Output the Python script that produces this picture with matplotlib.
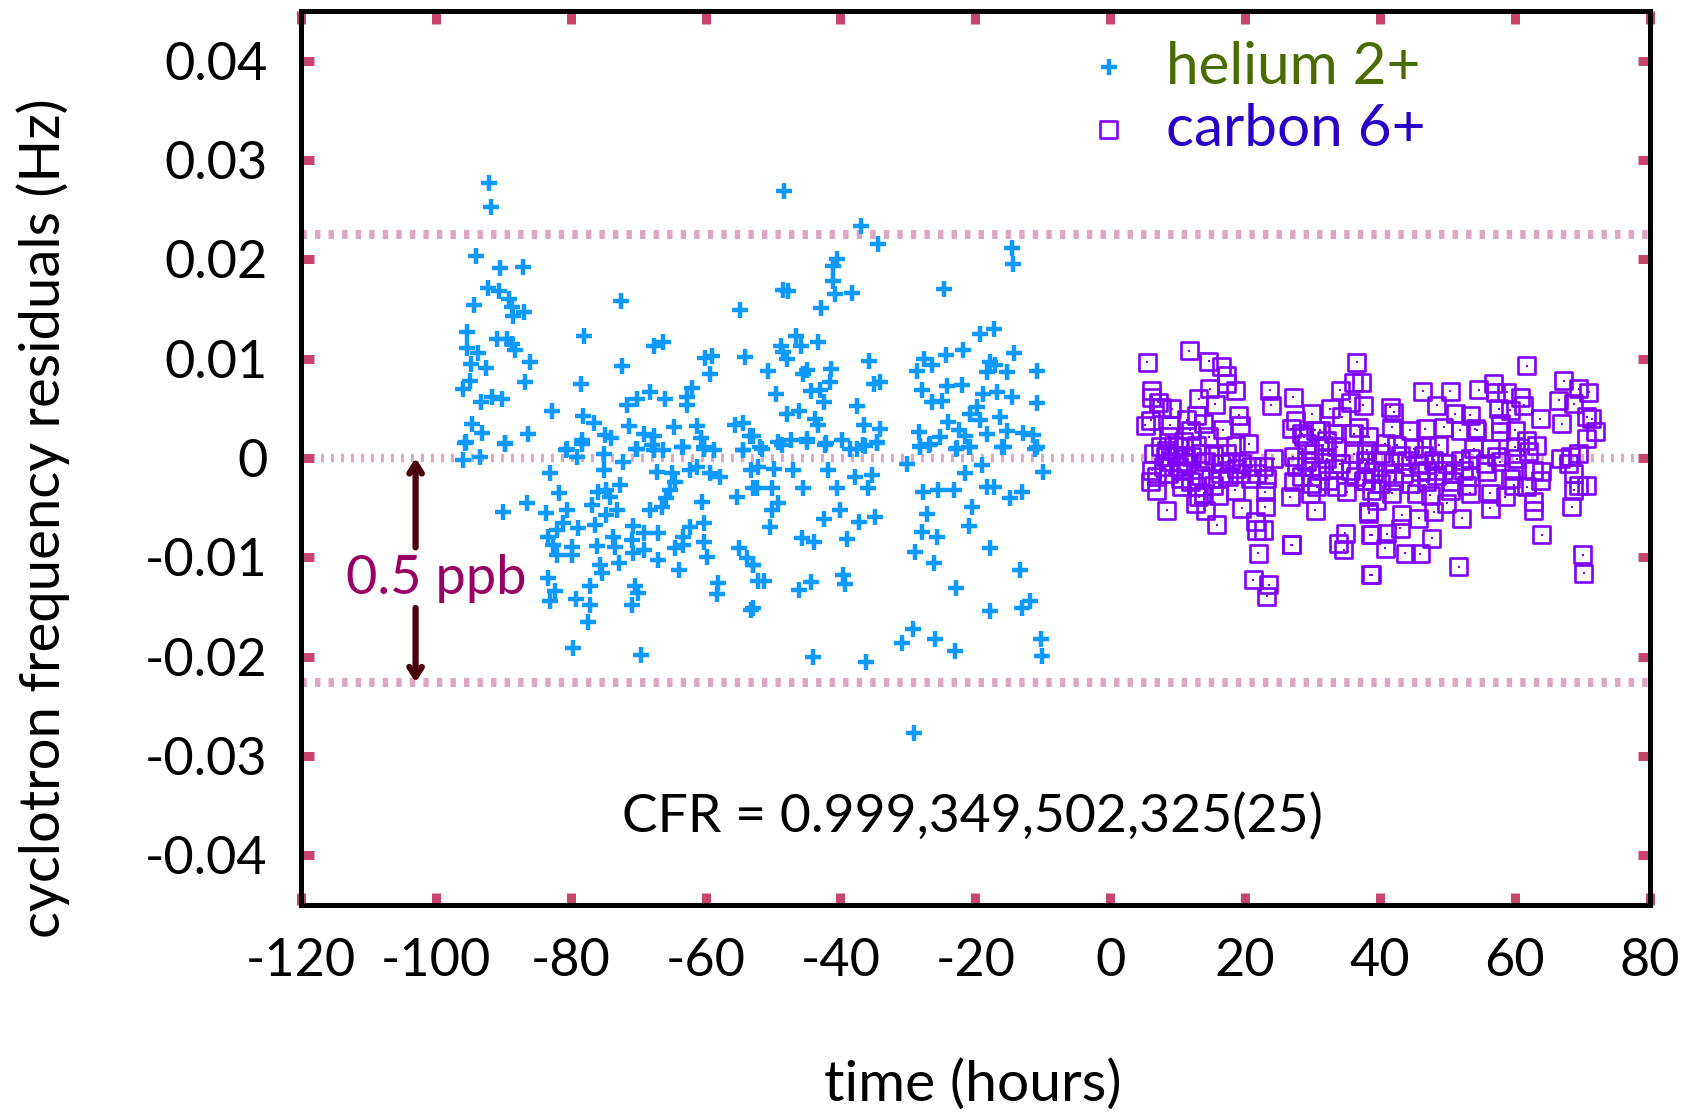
import matplotlib
matplotlib.use("Agg")
import matplotlib.pyplot as plt
import numpy as np

# helium 2+ residuals: time (hours) and residual (mHz)
he_t = [
    -92.05, -91.8, -94.0, -90.5, -87.1, -92.3, -90.7, -89.1, -88.7, -88.5, -87.0, -94.3, -72.6, -54.9,
    -95.4, -91.0, -89.5, -88.7, -88.3, -95.4, -93.8, -94.8, -92.5, -86.0, -78.0, -72.4, -67.7, -66.3,
    -60.1, -59.1, -54.1, -59.3, -95.0, -96.0, -86.8, -78.5, -93.3, -91.6, -90.2, -82.8, -78.2, -76.6,
    -71.7, -70.2, -68.2, -66.0, -62.8, -62.05, -62.7, -71.3, -64.7, -61.3, -55.6, -54.5, -94.7, -93.2,
    -95.5, -89.7, -86.3, -78.4, -74.9, -74.1, -69.1, -67.7, -60.7, -53.4, -80.7, -70.3, -66.3, -63.5,
    -60.3, -54.4, -68.0,
    -95.7, -89.7, -95.9, -93.4, -80.6, -78.4, -79.1, -75.1, -70.2, -67.7, -63.3, -60.3, -58.8, -54.4,
    -72.2, -75.1, -83.1, -67.2, -65.0, -62.3, -61.3, -59.3, -57.9, -53.2, -52.9, -64.5, -72.7, -81.8,
    -75.9, -74.7, -74.2, -65.3, -65.8, -55.4, -90.0, -86.5, -83.6, -80.6, -76.9, -74.7, -73.2, -68.2,
    -66.5, -60.6, -81.1, -76.4, -70.7, -83.3, -82.1, -78.9, -73.7, -69.2, -67.0, -63.3, -62.3, -60.3,
    -82.6, -79.8, -76.1, -73.4, -70.9, -69.2, -64.5, -63.3, -60.3, -82.1, -79.8, -72.9, -70.7, -75.6,
    -67.0, -64.0, -59.8, -55.1, -53.9, -52.9, -75.4, -83.3, -77.1, -70.4, -58.1, -82.3, -83.1, -79.2,
    -77.1, -69.96, -70.9, -58.3, -53.2, -77.4, -79.6, -69.6, -52.2,
    -48.36, -36.99, -34.37, -14.6, -14.35, -40.55, -41.1, -41.04, -40.8, -38.3, -48.56, -47.8, -42.9,
    -24.7, -46.6, -48.8, -48.46, -47.96, -45.9, -43.4, -50.7, -45.0, -45.5, -41.4, -41.6, -35.7, -35.1,
    -34.1, -49.5, -44.4, -43.0, -42.4, -37.6, -47.96, -46.1, -43.8, -43.3, -36.5, -34.1, -52.9, -49.2,
    -47.4, -44.9, -42.1, -39.8, -34.6, -51.7, -37.6, -36.3,
    -19.3, -17.2, -27.6, -26.5, -24.3, -21.8, -14.2, -28.7, -17.8, -17.1, -18.3, -15.3, -10.8, -27.9,
    -24.2, -22.0, -26.5, -25.0, -18.8, -16.8, -14.6, -10.9, -19.8, -20.8, -16.3, -24.0, -19.3, -28.4,
    -22.5, -25.2, -21.5, -18.3, -15.3, -12.9, -11.4, -28.2, -26.7, -22.75, -21.0, -16.1, -10.9,
    -51.9, -48.7, -45.0, -42.3, -38.6, -36.6, -34.6, -28.2, -26.9, -22.8, -20.8, -15.8, -11.1, -52.2,
    -49.9, -47.0, -41.8, -37.8, -35.4, -30.2, -21.5, -19.0, -9.9, -52.4, -50.2, -45.5, -40.5, -35.9,
    -27.7, -25.5, -23.2, -18.3, -17.3, -14.8, -13.1, -49.2, -50.2, -40.1, -42.5, -37.3, -34.9, -27.2,
    -20.5, -50.4, -45.7, -44.0, -39.1, -27.9, -25.7, -21.0, -28.9, -26.2, -17.9, -52.9, -51.4, -46.2,
    -44.3, -39.6, -39.4, -22.8, -13.4, -53.0, -17.8, -13.1, -11.9, -29.3, -30.9, -26.0, -23.0, -44.1,
    -36.2, -10.3, -10.1, -29.1,
]
he_r = [
    27.7, 25.3, 20.35, 19.1, 19.2, 17.1, 16.8, 16.0, 15.2, 14.3, 14.7, 15.4, 15.8, 14.9,
    12.66, 12.0, 12.0, 11.5, 10.9, 11.05, 10.55, 9.5, 9.1, 9.65, 12.3, 9.25, 11.25, 11.65,
    10.08, 10.3, 10.2, 8.5, 7.8, 6.9, 7.7, 7.5, 5.6, 6.1, 5.9, 4.7, 4.2, 3.55,
    5.3, 5.97, 6.6, 5.9, 5.3, 7.0, 6.14, 3.2, 3.1, 3.2, 3.3, 3.56, 3.46, 2.56,
    1.62, 1.55, 2.45, 1.85, 2.29, 2.05, 2.45, 2.2, 2.0, 2.2, 0.85, 0.95, 0.85, 1.1,
    1.1, 0.85, 1.3,
    1.5, 1.45, -0.22, 0.11, 0.95, 1.45, 0.11, 0.45, 0.95, 0.78, 1.12, 0.95, 0.78, 0.78,
    -0.39, -1.22, -1.56, -1.39, -1.56, -1.22, -0.89, -1.56, -1.89, -1.22, -3.06, -2.4, -2.73, -3.57,
    -3.4, -3.23, -3.9, -3.23, -4.07, -3.9, -5.4, -4.5, -5.57, -5.24, -4.74, -5.74, -5.24, -5.24,
    -4.9, -4.4, -6.58, -6.74, -6.84, -7.91, -7.24, -7.08, -7.91, -7.58, -7.58, -7.91, -6.91, -6.58,
    -8.75, -8.92, -8.85, -8.92, -8.25, -9.25, -9.08, -8.75, -8.42, -9.75, -9.75, -10.6, -9.6, -10.75,
    -10.25, -11.26, -10.0, -9.08, -10.09, -10.75, -11.6, -12.1, -12.86, -12.93, -12.6, -13.43, -14.4, -14.2,
    -14.77, -13.6, -14.77, -13.7, -15.27, -16.5, -19.1, -19.8, -12.4,
    26.87, 23.36, 21.6, 21.1, 19.58, 20.0, 19.35, 17.84, 16.5, 16.57, 16.9, 16.77, 15.06,
    17.0, 12.32, 11.32, 10.65, 9.98, 11.32, 11.65, 8.74, 8.88, 8.47, 8.98, 7.64, 9.81, 7.47,
    7.64, 6.4, 6.74, 6.8, 5.63, 5.23, 4.46, 4.73, 3.96, 3.3, 3.3, 2.96, 2.19, 1.62,
    1.79, 1.92, 1.52, 1.79, 1.52, 0.95, 0.95, 1.18,
    12.49, 12.99, 9.98, 9.41, 10.41, 10.88, 10.58, 8.74, 9.65, 9.41, 8.64, 8.64, 8.81, 6.87,
    7.3, 7.4, 5.63, 5.73, 6.47, 6.64, 6.13, 5.56, 5.13, 4.46, 4.13, 3.63, 3.86, 2.62,
    2.86, 2.12, 2.19, 2.46, 2.72, 2.52, 2.29, 1.18, 1.45, 1.05, 1.12, 1.12, 1.12,
    1.12, 1.28, 1.62, 1.28, 0.95, 1.28, 1.62, 1.12, 1.28, 0.95, 1.12, 1.12, 0.95, -0.89,
    -1.06, -1.22, -1.22, -1.89, -1.73, -0.56, -1.56, -0.72, -1.39, -3.06, -3.06, -3.06, -3.06, -3.06,
    -3.4, -3.23, -3.23, -2.9, -2.9, -4.07, -3.4, -4.57, -5.24, -5.24, -6.17, -6.41, -5.97, -5.64,
    -4.9, -6.97, -8.08, -8.42, -8.18, -7.41, -7.91, -6.84, -9.42, -10.59, -9.08, -10.75, -12.43, -13.27,
    -12.53, -11.76, -12.66, -13.1, -11.26, -15.1, -15.44, -15.1, -14.4, -17.21, -18.68, -18.2, -19.45, -20.02,
    -20.55, -18.2, -19.95, -27.65,
]

# carbon 6+ residuals: time (hours) and residual (mHz)
c_t = [
    11.75, 5.52, 14.57, 16.55, 17.29, 17.29, 18.52, 14.72, 13.09, 15.56, 23.62, 23.86, 27.17, 6.17,
    7.15, 7.65, 9.13, 11.36, 5.18, 6.02, 8.88, 16.7, 19.02, 19.26, 14.57, 8.64, 10.86, 12.84,
    18.52, 20.5, 6.41, 8.39, 10.12, 11.11, 8.88, 7.9, 10.12, 14.07, 16.3, 17.78, 19.51, 21.0,
    24.21, 22.73, 6.91, 10.37, 13.33, 14.82, 17.54, 19.26, 20.75, 6.81, 10.62, 12.84, 13.83, 16.05,
    18.52, 22.97, 8.39, 12.59, 14.07, 19.51, 22.97, 15.81, 21.49, 21.74, 22.73, 26.93, 21.98, 21.24,
    23.47, 23.22,
    7.4, 9.38, 8.14, 9.87, 11.36, 12.1, 10.62, 8.64, 6.17, 5.92, 11.85, 13.09, 15.31, 16.3,
    18.77, 21.74, 23.22, 17.29, 15.31, 13.33, 13.83, 11.85, 12.84, 6.17,
    36.57, 34.1, 36.07, 37.31, 35.58, 37.55, 27.42, 29.89, 32.6, 34.34, 36.81, 26.93, 28.41, 31.13,
    33.1, 36.07, 29.15, 31.62, 33.6, 27.17, 30.14, 32.12, 36.07, 37.8, 27.67, 29.65, 33.1, 35.58,
    27.17, 29.89, 32.37, 37.55, 26.68, 29.65, 35.08, 30.39, 38.3, 26.83, 33.85, 34.84, 34.6, 38.54,
    38.54,
    28.66, 30.39, 32.12, 29.15, 31.13, 28.41, 30.64, 34.1, 36.32, 33.6,
    61.79, 67.22, 69.45, 70.93, 46.36, 50.42, 54.62, 56.84, 57.09, 58.82, 60.8, 66.48, 68.71, 48.44,
    41.52, 42.01, 51.16, 53.38, 57.58, 59.31, 61.29, 63.76, 66.98, 71.43, 71.92, 44.48, 46.71, 49.43,
    51.9, 54.12, 57.83, 60.06, 41.77, 38.3, 70.68, 40.78, 42.51, 44.98, 46.96, 48.69, 53.88, 56.35,
    60.06, 62.04, 63.27, 66.73, 69.45, 68.0, 38.06, 39.54, 42.01, 44.0, 45.72, 47.95, 49.92, 51.9,
    53.38, 55.6, 57.83, 60.3, 39.05, 41.02, 43.5, 45.97, 48.44, 50.91, 53.38, 55.85, 59.31, 62.78,
    64.01, 68.71, 40.04, 44.48, 46.96, 50.66, 52.89, 59.8, 61.79, 69.45, 70.68, 39.54, 45.48, 47.45,
    53.38, 56.35, 58.57, 62.78, 68.71, 38.3, 43.25, 45.72, 47.95, 49.92, 52.15, 56.35, 62.78, 68.46,
    43.0, 38.8, 41.02, 47.7, 64.01, 40.78, 43.74, 45.97, 51.65, 38.8, 70.09, 70.19,
    38.06, 40.04, 43.0, 46.46, 49.43, 46.96, 42.01, 37.8, 38.8, 41.77, 50.42, 52.4, 54.37, 57.83,
    61.79, 59.8, 57.34, 63.76, 68.21, 70.68,
]
c_r = [
    10.81, 9.64, 9.74, 9.21, 8.31, 7.47, 6.8, 6.97, 5.96, 5.4, 6.8, 5.3, 6.13, 6.13,
    5.63, 5.13, 4.96, 3.86, 3.29, 3.79, 3.29, 2.85, 4.29, 3.29, 2.12, 2.19, 1.62, 1.28,
    1.28, 1.45, 0.45, 0.78, 1.12, 0.28, -0.39, -0.89, -0.89, -0.39, -0.56, -0.39, -0.56, -0.89,
    -0.06, -0.89, -1.89, -2.06, -1.73, -2.06, -1.89, -1.56, -2.06, -3.23, -2.9, -2.9, -3.57, -3.74,
    -3.23, -3.4, -5.24, -4.57, -5.24, -5.07, -4.9, -6.74, -6.41, -7.25, -7.25, -8.75, -9.59, -12.26,
    -12.77, -13.93,
    1.12, 1.28, 0.11, 0.28, -0.56, 0.11, -1.23, -1.56, -1.23, -2.4, -2.4, -3.9, -2.73, -1.56,
    -1.06, -1.56, -2.06, 0.45, 0.28, 0.45, 3.46, 2.79, 4.29, 6.8,
    9.64, 6.8, 7.64, 7.64, 5.63, 5.3, 3.79, 4.46, 4.96, 4.13, 3.12, 2.95, 2.45, 2.79,
    2.45, 2.45, 1.45, 1.28, 1.12, 0.11, 0.45, -0.06, 0.45, -0.22, -0.89, -0.89, -1.06, -1.23,
    -2.4, -2.57, -2.23, -2.23, -3.9, -3.57, -3.4, -5.24, -5.4, -8.75, -8.58, -7.58, -9.25, -7.75,
    -11.76,
    2.12, 2.79, 1.79, -0.39, -1.23, -1.89, -2.9, -0.56, -1.89, -2.9,
    9.31, 7.8, 6.97, 6.63, 6.73, 6.73, 6.87, 7.47, 6.63, 6.63, 6.13, 5.8, 5.46, 5.3,
    5.13, 4.63, 4.46, 4.29, 4.96, 4.79, 5.3, 3.96, 3.46, 3.96, 2.62, 2.79, 2.95, 3.12,
    2.79, 2.95, 2.62, 2.79, 3.12, 2.12, 1.95, 1.45, 1.28, 0.95, 1.12, 1.28, 0.95, 0.95,
    1.12, 0.61, 1.28, -0.06, 0.45, -0.56, -0.39, -0.39, -0.39, -0.22, -0.56, -0.22, -0.56, -0.22,
    -0.06, -0.56, -0.39, -0.06, -1.39, -1.56, -1.56, -1.39, -1.73, -1.56, -1.89, -1.39, -2.06, -1.23,
    -1.39, -1.56, -2.57, -2.57, -2.4, -2.4, -2.73, -2.73, -2.9, -2.73, -2.73, -4.24, -3.57, -3.74,
    -3.57, -3.57, -3.9, -4.4, -3.23, -5.57, -5.74, -6.07, -5.4, -4.57, -6.07, -5.07, -5.24, -4.9,
    -7.08, -7.75, -7.65, -8.08, -7.75, -9.08, -9.59, -9.66, -10.93, -11.76, -9.76, -11.6,
    0.78, 0.45, 0.28, 0.28, -1.23, -1.23, -2.23, -2.23, -3.23, -3.57, -3.23, -1.23, 2.79, 3.46,
    1.78, -1.23, 0.11, -2.23, 0.11, 4.13,
]

band = 0.0226  # 0.5 ppb
cfr_text = "CFR = 0.999,349,502,325(25)"

plt.rcParams['font.family'] = ['Lato', 'DejaVu Sans']

fig = plt.figure(figsize=(16.85, 11.13), dpi=100)
ax = fig.add_axes([0.1786, 0.187, 0.8005, 0.803])

pink = '#dca6c4'
ax.axhline(band, color=pink, lw=6.5, dashes=(0.6, 0.9), zorder=1)
ax.axhline(-band, color=pink, lw=6.5, dashes=(0.6, 0.9), zorder=1)
ax.axhline(0, color=pink, lw=6, dashes=(0.35, 0.85), zorder=1)

he_y = np.array(he_r) / 1000
c_y = np.array(c_r) / 1000
ax.scatter(he_t, he_y, marker='+', s=130, linewidths=3.2, color='#0d99ff', zorder=3)
ax.scatter(c_t, c_y, marker='s', s=150, facecolors='none', edgecolors='#8000ff', linewidths=1.9, zorder=3)
ax.scatter(c_t, c_y, marker='s', s=1.5, color='#8000ff', linewidths=0, zorder=3)

ax.set_xlim(-120, 80)
ax.set_ylim(-0.045, 0.045)
ax.set_xticks(np.arange(-120, 81, 20))
ax.set_yticks([-0.04, -0.03, -0.02, -0.01, 0, 0.01, 0.02, 0.03, 0.04])
ax.set_yticklabels(['-0.04', '-0.03', '-0.02', '-0.01', '0', '0.01', '0.02', '0.03', '0.04'])
ax.set_xticklabels([str(v) for v in range(-120, 81, 20)])

ax.tick_params(direction='in', length=9, width=6.5, color='#c8466e', labelsize=37.5,
               top=True, right=True, pad=24)
for sp in ax.spines.values():
    sp.set_linewidth(3.6)
    sp.set_color('black')

ax.set_xlabel('time (hours)', fontsize=41)
ax.set_ylabel('cyclotron frequency residuals (Hz)', fontsize=40.5)
ax.xaxis.set_label_coords(0.498, -0.201)
ax.xaxis.label.set_va('center')
ax.yaxis.set_label_coords(-0.191, 0.433)
ax.yaxis.label.set_va('center')

# 0.5 ppb annotation
arr = dict(arrowstyle='->,head_length=0.7,head_width=0.45', color='#4a0008', lw=4.5, shrinkA=0, shrinkB=0)
ax.annotate('', xy=(-103, 0), xytext=(-103, -0.009), arrowprops=arr, zorder=2)
ax.annotate('', xy=(-103, -band), xytext=(-103, -0.0151), arrowprops=arr, zorder=2)
ax.text(-100, -0.0121, '0.5 ppb', color='#990066', fontsize=39, ha='center', va='center')

ax.text(0.498, 0.098, cfr_text, transform=ax.transAxes, fontsize=38.5, ha='center', va='center')

# legend, drawn by hand
ax.scatter([0.599], [0.937], transform=ax.transAxes, marker='+', s=130, linewidths=3.2,
           color='#0d99ff', clip_on=False)
ax.scatter([0.599], [0.868], transform=ax.transAxes, marker='s', s=150, facecolors='none',
           edgecolors='#8000ff', linewidths=1.9, clip_on=False)
ax.text(0.641, 0.937, 'helium 2+', transform=ax.transAxes, color='#4a6b00', fontsize=42, va='center')
ax.text(0.641, 0.868, 'carbon 6+', transform=ax.transAxes, color='#2800c8', fontsize=42, va='center')

fig.savefig('out.png', dpi=100)
